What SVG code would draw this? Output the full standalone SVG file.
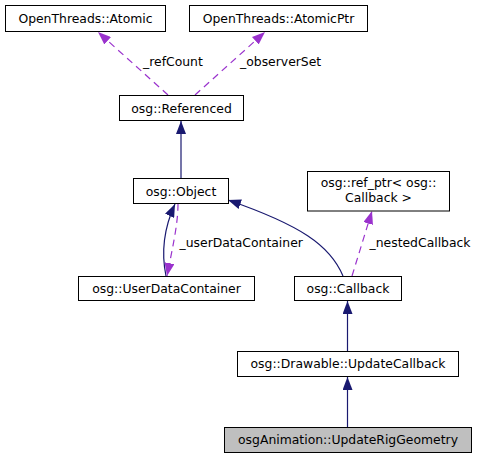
<svg xmlns="http://www.w3.org/2000/svg" width="480" height="459" viewBox="0 0 480 459">
<style>
.box{fill:#ffffff;stroke:#000000;stroke-width:1}
.cur{fill:#bfbfbf;stroke:#000000;stroke-width:1}
.t{font-family:"DejaVu Sans","Liberation Sans",sans-serif;font-size:12.4px;fill:#000000}
.c{text-anchor:middle}
.inh{fill:none;stroke:#191970;stroke-width:1.2}
.use{fill:none;stroke:#9a32cd;stroke-width:1.2;stroke-dasharray:7,5}
</style>
<defs>
<marker id="an" viewBox="0 0 13 10" refX="13" refY="5" markerWidth="13" markerHeight="10" markerUnits="userSpaceOnUse" orient="auto">
<path d="M0,0 L13,5 L0,10 Z" fill="#191970"/>
</marker>
<marker id="ap" viewBox="0 0 13 10" refX="13" refY="5" markerWidth="13" markerHeight="10" markerUnits="userSpaceOnUse" orient="auto">
<path d="M0,0 L13,5 L0,10 Z" fill="#9a32cd"/>
</marker>
</defs>
<rect width="480" height="459" fill="#ffffff"/>
<g id="connectors">
<path class="use" d="M168,95 L98,32" marker-end="url(#ap)"/>
<path class="use" d="M195,95 L265,32" marker-end="url(#ap)"/>
<path class="inh" d="M181,178.5 L181,121" marker-end="url(#an)"/>
<path class="inh" d="M166,276 C161,252 164,228 175,204" marker-end="url(#an)"/>
<path class="use" d="M178,204 C178,225 172,250 167,276" marker-end="url(#ap)"/>
<path class="inh" d="M343,276 C330,245 300,225 228,200" marker-end="url(#an)"/>
<path class="use" d="M352,276 L372,211" marker-end="url(#ap)"/>
<path class="inh" d="M347.5,351 L347.5,301" marker-end="url(#an)"/>
<path class="inh" d="M347.5,427 L347.5,377" marker-end="url(#an)"/>
<text class="t" x="143" y="66">_refCount</text>
<text class="t" x="240" y="66">_observerSet</text>
<text class="t" x="179.5" y="247">_userDataContainer</text>
<text class="t" x="369.5" y="247">_nestedCallback</text>
</g>
<g id="atomic"><rect class="box" x="5.5" y="5.5" width="160" height="26"/><text class="t c" x="85.5" y="23">OpenThreads::Atomic</text></g>
<g id="atomicptr"><rect class="box" x="189.5" y="5.5" width="178" height="26"/><text class="t c" x="278.5" y="23">OpenThreads::AtomicPtr</text></g>
<g id="referenced"><rect class="box" x="119.5" y="95.5" width="124" height="25"/><text class="t c" x="181.5" y="112.5">osg::Referenced</text></g>
<g id="object"><rect class="box" x="133.5" y="178.5" width="95" height="25"/><text class="t c" x="181" y="195.5">osg::Object</text></g>
<g id="refptr"><rect class="box" x="307.5" y="171.5" width="142" height="39.5"/><text class="t c" x="378.5" y="187">osg::ref_ptr&lt; osg::</text><text class="t c" x="378.5" y="202">Callback &gt;</text></g>
<g id="userdatacontainer"><rect class="box" x="78.5" y="276.5" width="176" height="24"/><text class="t c" x="166.5" y="293">osg::UserDataContainer</text></g>
<g id="callback"><rect class="box" x="294.5" y="276.5" width="107" height="24"/><text class="t c" x="348" y="293">osg::Callback</text></g>
<g id="updatecallback"><rect class="box" x="237.5" y="351.5" width="221" height="25"/><text class="t c" x="348" y="368">osg::Drawable::UpdateCallback</text></g>
<g id="updaterig"><rect class="cur" x="224.5" y="427.5" width="247" height="25"/><text class="t c" x="348" y="444">osgAnimation::UpdateRigGeometry</text></g>
</svg>
